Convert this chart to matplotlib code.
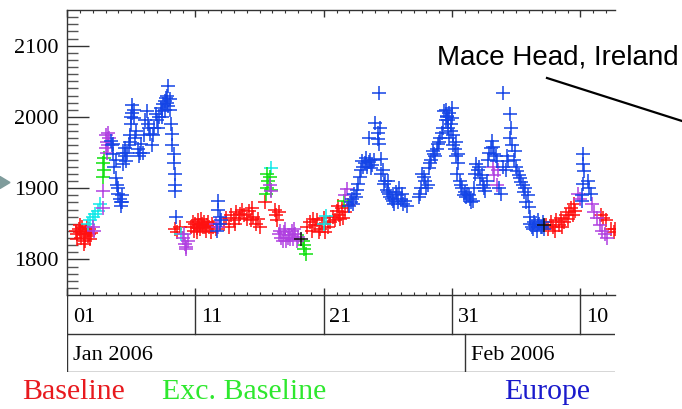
import matplotlib
matplotlib.use("Agg")
import matplotlib.pyplot as plt
from matplotlib.lines import Line2D
from matplotlib.patches import Polygon
import numpy as np

# days since 2006-01-01 00:00, methane mixing ratio (ppb)
baseline_day = [0.7, 0.8, 0.9, 1.0, 1.1, 1.2, 1.3, 1.4, 1.5, 1.6, 1.7, 1.8, 1.9,
                0.75, 1.05, 1.35, 1.55, 1.75,
                8.4, 8.6, 8.8,
                9.7, 9.8, 9.9, 10.0, 10.1, 10.2, 10.3, 10.4, 10.5, 10.6, 10.7, 10.8, 10.9, 11.0,
                11.1, 11.2, 11.3, 11.4, 11.6, 10.15, 10.45, 10.75,
                12.2, 12.4, 12.6, 12.8, 13.0, 13.2, 13.4, 13.6, 13.8, 14.0, 14.2, 14.4, 14.5,
                14.7, 14.9, 15.0, 15.4, 16.2, 16.3, 16.4, 16.5, 13.1, 13.5, 14.3,
                18.7, 18.9, 19.1, 19.3, 19.5, 19.7, 19.9, 20.1, 20.3, 20.5, 19.2, 19.6, 20.0,
                20.7, 20.9, 21.0, 21.2, 21.4, 21.5, 21.7, 21.9, 21.1, 21.3,
                37.3, 37.5, 37.7, 37.9, 38.1, 38.3, 38.5, 38.7, 38.9, 39.1, 39.3, 39.5, 39.6,
                38.0, 38.6, 39.0, 39.4,
                41.6, 41.8, 42.0, 42.4, 42.6, 42.7]
baseline_ch4 = [1840, 1835, 1843, 1838, 1830, 1845, 1836, 1826, 1840, 1833, 1842, 1828, 1837,
                1828, 1848, 1822, 1846, 1836,
                1842, 1838, 1845,
                1846, 1852, 1840, 1850, 1844, 1855, 1848, 1842, 1850, 1845, 1853, 1840, 1848, 1852,
                1845, 1838, 1850, 1846, 1842, 1838, 1856, 1845,
                1850, 1858, 1845, 1862, 1855, 1866, 1858, 1870, 1862, 1857, 1868, 1872, 1860,
                1850, 1856, 1845, 1880, 1870, 1862, 1855, 1866, 1850, 1864, 1855,
                1845, 1852, 1840, 1848, 1855, 1843, 1850, 1838, 1846, 1853, 1856, 1838, 1858,
                1860, 1855, 1868, 1862, 1872, 1858, 1866, 1876, 1875, 1856,
                1848, 1842, 1852, 1845, 1855, 1848, 1858, 1852, 1862, 1866, 1872, 1878, 1868,
                1840, 1846, 1856, 1862,
                1862, 1858, 1855, 1842, 1838, 1842]

excluded_day = [2.8, 2.9, 2.8, 2.9,
                15.5, 15.6, 15.7, 15.6, 15.8, 15.9,
                18.4, 18.5, 18.6, 18.5, 21.6]
excluded_ch4 = [1915, 1925, 1935, 1942,
                1892, 1900, 1910, 1920, 1915, 1898,
                1826, 1815, 1808, 1820, 1882]

mixed_day = [2.0, 2.1, 2.8, 2.8, 3.0, 3.1, 3.2, 3.3, 3.2, 3.1, 3.0,
             9.0, 9.1, 9.2, 9.3, 9.4, 9.25, 11.6, 11.8, 15.8, 15.9,
             16.5, 16.7, 16.9, 17.1, 17.3, 17.5, 17.6, 17.8, 18.0,
             16.6, 16.8, 17.0, 17.2, 17.4, 17.7, 17.9,
             21.7, 21.8, 33.2, 33.3, 33.5, 33.6, 39.8, 40.0,
             40.9, 41.1, 41.3, 41.5, 41.7, 41.9, 42.1]
mixed_ch4 = [1845, 1840, 1872, 1896, 1956, 1965, 1977, 1970, 1960, 1950, 1975,
             1830, 1836, 1822, 1815, 1826, 1818, 1850, 1845, 1905, 1896,
             1835, 1830, 1838, 1826, 1834, 1840, 1828, 1836, 1832,
             1840, 1826, 1842, 1830, 1828, 1842, 1826,
             1890, 1899, 1930, 1918, 1905, 1925, 1892, 1885,
             1878, 1866, 1858, 1848, 1840, 1836, 1830]

cyan_day = [1.6, 1.8, 2.0, 2.2, 2.4, 2.6, 8.9, 15.9, 20.0, 20.2]
cyan_ch4 = [1850, 1855, 1860, 1863, 1868, 1878, 1836, 1928, 1850, 1861]

black_day = [18.2, 37.2]
black_ch4 = [1829, 1848]

europe_day = [3.4, 3.5, 3.6, 3.7, 3.8, 3.9, 4.0, 4.1, 4.2, 4.3, 4.4, 4.5, 4.6, 4.5,
              3.6, 3.8, 4.0, 4.2, 4.3, 4.4,
              4.8, 4.9, 5.0, 5.1, 5.1, 5.2, 5.3, 5.5, 5.6, 5.8, 5.9, 6.0, 6.2, 6.3, 6.5,
              6.6, 6.8, 6.9, 7.0, 7.1, 7.3, 7.4, 7.5, 7.6, 7.7, 7.8, 7.9, 8.0, 8.1, 8.2,
              8.3, 8.3, 8.4, 8.4, 8.4, 8.5,
              4.7, 4.9, 5.0, 5.2, 5.4, 5.7, 6.1, 6.4, 6.7, 7.2, 7.4, 7.6, 7.8, 7.9, 8.0, 8.2,
              11.7, 11.8, 11.8, 11.9, 11.9, 12.0,
              22.0, 22.1, 22.2, 22.4, 22.5, 22.7, 22.8, 22.9, 23.0, 23.1, 23.3, 23.5, 23.7,
              23.9, 24.0, 24.2, 23.5, 24.3, 24.2, 24.5, 24.5, 24.7, 24.9, 25.1, 25.3, 25.5,
              25.7, 25.9, 26.0, 26.2, 26.5, 25.0,
              22.3, 22.6, 23.2, 23.4, 23.6, 23.8, 24.6, 24.8, 25.0, 25.2, 25.4, 25.6, 25.8,
              26.1, 26.3, 24.4, 24.3,
              27.4, 27.6, 27.7, 27.9, 28.0, 28.2, 28.4, 28.5, 28.7, 28.9, 29.1, 29.3, 29.4,
              29.5, 29.6, 29.7, 29.8, 29.9, 30.0, 30.1, 30.2, 30.3, 30.5,
              27.5, 27.8, 28.1, 28.3, 28.6, 28.8, 29.0, 29.2, 29.5, 29.6, 29.7, 29.8, 29.9,
              30.0, 30.1, 30.3, 30.5,
              30.4, 30.6, 30.8, 31.0, 31.2, 31.4, 31.6,
              31.8, 31.9, 32.0, 32.2, 32.4, 32.6, 32.7,
              32.8, 33.0, 33.1, 33.3, 33.5,
              30.7, 30.9, 31.1, 31.3, 31.5, 31.7, 32.1, 32.3, 32.5, 32.9, 33.2, 33.4,
              33.7, 33.8, 34.0, 34.5, 34.6, 34.5, 34.9, 34.4, 34.2,
              35.1, 35.3, 35.5, 35.7, 35.9, 36.0, 36.1,
              36.1, 36.3, 36.5, 36.7, 36.9, 37.1, 37.2,
              34.0, 34.3, 34.7, 34.8, 35.0, 35.2, 35.4, 35.6, 35.8, 36.2, 36.4, 36.6, 36.8, 37.0,
              40.1, 40.2, 40.2, 40.3, 40.2, 40.1, 40.7, 40.8, 40.6]
europe_ch4 = [1966, 1960, 1948, 1930, 1914, 1905, 1892, 1885, 1875, 1880, 1934, 1945, 1938, 1956,
              1962, 1940, 1900, 1880, 1890, 1950,
              1960, 1975, 1990, 2005, 2017, 1998, 1970, 1955, 1945, 1962, 1950, 1975, 2008, 1990, 1976,
              1960, 1985, 2004, 1995, 1985, 2012, 2000, 2018, 2010, 2026, 2020, 2043, 2010, 1990, 1976,
              1948, 1935, 1920, 1905, 1896, 1859,
              1950, 1965, 2000, 2010, 1980, 1950, 1995, 1985, 1975, 2000, 2008, 2022, 2030, 2015, 2025, 1960,
              1840, 1882, 1870, 1860, 1850, 1855,
              1875, 1880, 1885, 1892, 1888, 1906, 1915, 1925, 1938, 1930, 1942, 1936, 1928,
              1940, 1991, 1977, 1971, 2033, 1969, 1941, 1920, 1906, 1898, 1892, 1885, 1878,
              1890, 1900, 1885, 1878, 1875, 1910,
              1878, 1898, 1935, 1930, 1940, 1932, 1925, 1910, 1895, 1888, 1882, 1895, 1880,
              1892, 1882, 1985, 1962,
              1887, 1900, 1920, 1910, 1900, 1928, 1940, 1952, 1945, 1962, 1970, 1984, 2008,
              1995, 2001, 1985, 1970, 1990, 2012, 1975, 1955, 1965, 1948,
              1892, 1915, 1905, 1935, 1948, 1955, 1965, 1978, 2010, 2000, 1995, 2005, 1980,
              1998, 1960, 1945, 1935,
              1920, 1910, 1900, 1895, 1892, 1885, 1882,
              1920, 1934, 1925, 1914, 1905, 1896, 1910,
              1940, 1956, 1966, 1948, 1938,
              1905, 1890, 1888, 1890, 1880, 1900, 1930, 1918, 1900, 1950, 1958, 1945,
              1900, 1892, 2034, 2004, 1984, 1970, 1952, 1938, 1925,
              1924, 1914, 1905, 1900, 1890, 1873, 1860,
              1850, 1842, 1848, 1855, 1845, 1852, 1842,
              1930, 1945, 1960, 1940, 1930, 1918, 1908, 1895, 1880, 1845, 1852, 1840, 1850, 1845,
              1890, 1934, 1948, 1924, 1906, 1882, 1900, 1892, 1910]

day_ticks = [0, 10, 20, 30, 40]
day_labels = ["01", "11", "21", "31", "10"]
month_starts = [0, 31]
month_labels = ["Jan 2006", "Feb 2006"]

W, H = 682, 409
serif = "Liberation Serif"

fig = plt.figure(figsize=(W / 100, H / 100), dpi=100)
ax = fig.add_axes([67 / W, 1 - 295 / H, 548 / W, 285 / H])

mk = dict(marker="+", linestyle="none", markersize=10, markeredgewidth=1.1)
ax.plot(baseline_day, baseline_ch4, color="#ff1010", **mk)
ax.plot(cyan_day, cyan_ch4, color="#10e8e8", **mk)
ax.plot(excluded_day, excluded_ch4, color="#10e010", **mk)
ax.plot(mixed_day, mixed_ch4, color="#b040e0", **mk)
ax.plot(europe_day, europe_ch4, color="#1444e6", **mk)
ax.plot(black_day, black_ch4, color="#111111", **mk)

ax.set_xlim(0, 42.7)
ax.set_ylim(1750, 2150)
ax.spines["right"].set_visible(False)
for s in ["left", "top", "bottom"]:
    ax.spines[s].set_color("#333333")
    ax.spines[s].set_linewidth(1.0)

ax.set_yticks([1800, 1900, 2000, 2100])
ax.set_yticks(np.arange(1760, 2150, 10), minor=True)
ax.set_xticks(day_ticks)
ax.set_xticks(np.arange(1, 43, 1), minor=True)
ax.set_xticklabels([])
ax.tick_params(axis="y", which="major", direction="in", length=16, width=1, color="#333333",
               labelsize=16, pad=6)
ax.tick_params(axis="y", which="minor", direction="in", length=8, width=1, color="#555555")
ax.tick_params(axis="x", which="both", direction="in", top=True, color="#333333")
ax.tick_params(axis="x", which="major", length=5, width=1)
ax.tick_params(axis="x", which="minor", length=2.5, width=0.8)
for t in ax.get_yticklabels():
    t.set_fontfamily(serif)

# date boxes below the plot
bx = fig.add_axes([67 / W, 1 - 372 / H, 548 / W, 77 / H])
bx.set_xlim(0, 42.7)
bx.set_ylim(0, 2)
bx.axis("off")
bx.axhline(1, color="#333333", lw=1)
bx.axhline(0, color="#333333", lw=1)
for d, lab in zip(day_ticks, day_labels):
    bx.plot([d, d], [1, 2], color="#333333", lw=1)
    bx.text(d + 0.45, 1.42, lab, fontsize=16, family=serif, va="center", ha="left")
for d, lab in zip(month_starts, month_labels):
    bx.plot([d, d], [0, 1], color="#333333", lw=1)
    bx.text(d + 0.45, 0.42, lab, fontsize=16, family=serif, va="center", ha="left")

# colour key
fig.text(22 / W, 1 - 392 / H, "Baseline", color="#e8191e", fontsize=21.5, family=serif, va="center")
fig.text(162 / W, 1 - 392 / H, "Exc. Baseline", color="#2ee82e", fontsize=21.5, family=serif, va="center")
fig.text(504 / W, 1 - 392 / H, "Europe", color="#1a1acc", fontsize=21.5, family=serif, va="center")

# site annotation
fig.text(437 / W, 1 - 57 / H, "Mace Head, Ireland", fontsize=20, family="Liberation Sans", va="center")
fig.add_artist(Line2D([547 / W, 1.0], [1 - 78 / H, 1 - 121 / H], transform=fig.transFigure,
                      color="black", lw=1.6))
fig.add_artist(Polygon([(0, 1 - 176.5 / H), (10 / W, 1 - 182.5 / H), (0, 1 - 188.5 / H)],
                       closed=True, transform=fig.transFigure, color="#7f9c9c"))

fig.savefig("out.png", dpi=100)
